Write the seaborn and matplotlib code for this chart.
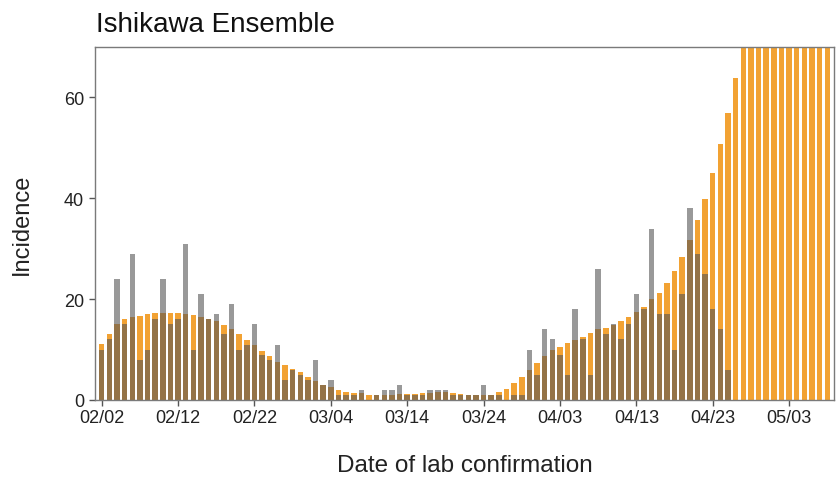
import matplotlib
matplotlib.use("Agg")
import matplotlib.pyplot as plt
import seaborn as sns
import pandas as pd
import numpy as np

start_date = "2021-02-02"

ensemble = [11.1, 13.0, 15.0, 16.0, 16.5, 16.7, 17.0, 17.2, 17.3, 17.3,
            17.2, 17.0, 16.8, 16.5, 16.1, 15.6, 14.8, 14.1, 13.0, 11.8,
            11.0, 9.8, 8.8, 7.5, 7.0, 6.2, 5.6, 4.6, 3.8, 3.0,
            2.5, 1.9, 1.5, 1.4, 1.3, 1.0, 1.0, 1.0, 1.0, 1.1,
            1.2, 1.2, 1.3, 1.4, 1.5, 1.5, 1.4, 1.2, 1.0, 1.0,
            1.0, 1.0, 1.5, 2.2, 3.4, 4.6, 6.0, 7.4, 8.8, 10.0,
            10.6, 11.3, 11.9, 12.5, 13.2, 14.0, 14.3, 14.9, 15.6, 16.4,
            17.4, 18.4, 20.0, 21.2, 23.2, 25.5, 28.4, 31.8, 35.6, 39.9,
            45.1, 50.7, 56.9, 63.8, 72.0, 80.0, 88.0, 97.0, 107.0, 118.0,
            130.0, 143.0, 157.0, 172.0, 189.0, 208.0]

observed = [10, 12, 24, 15, 29, 8, 10, 16, 24, 15,
            16, 31, 10, 21, 16, 17, 13, 19, 10, 11,
            15, 9, 8, 11, 4, 6, 5, 4, 8, 3,
            4, 1, 1, 1, 2, 0, 1, 2, 2, 3,
            1, 1, 1, 2, 2, 2, 1, 1, 1, 1,
            3, 1, 1, 0, 1, 1, 10, 5, 14, 12,
            9, 5, 18, 12, 5, 26, 13, 15, 12, 15,
            21, 18, 34, 17, 17, 10, 21, 38, 29, 25,
            18, 14, 6]

dates = pd.date_range(start_date, periods=len(ensemble), freq="D")
date_labels = [d.strftime("%m/%d") for d in dates]

df_ens = pd.DataFrame({"date": date_labels, "value": ensemble})
df_obs = pd.DataFrame({"date": date_labels[:len(observed)], "value": observed})

sns.set_style("white")
plt.rcParams["font.family"] = ["Liberation Sans", "DejaVu Sans"]

fig = plt.figure(figsize=(8.39, 4.85), dpi=100)
ax = fig.add_axes([95 / 839, 1 - 401 / 485, (834 - 95) / 839, (401 - 48) / 485])

sns.barplot(data=df_ens, x="date", y="value", order=date_labels, color="#F2A233",
            saturation=1, errorbar=None, width=0.72, linewidth=0, ax=ax)
sns.barplot(data=df_obs, x="date", y="value", order=date_labels, color="#555555",
            alpha=0.6, saturation=1, errorbar=None, width=0.72, linewidth=0, ax=ax)

ax.set_ylim(0, 70)
ax.set_xlim(-0.88, len(ensemble) - 1 + 0.88)
ax.set_yticks([0, 20, 40, 60])
tick_pos = list(range(0, len(ensemble), 10))
ax.set_xticks(tick_pos)
ax.set_xticklabels([date_labels[i] for i in tick_pos])

for s in ax.spines.values():
    s.set_visible(True)
    s.set_color("#7a7a7a")
    s.set_linewidth(1.0)

ax.tick_params(axis="both", direction="out", length=4, width=1, color="#555555",
               labelsize=13, labelcolor="#222222", bottom=True, left=True)
ax.tick_params(axis="x", pad=2.5)
ax.tick_params(axis="y", pad=4)
ax.set_xlabel("Date of lab confirmation", fontsize=17.5, color="#222222", labelpad=20)
ax.set_ylabel("Incidence", fontsize=17, color="#222222", labelpad=22)
fig.text(96 / 839, 1 - 25 / 485, "Ishikawa Ensemble", fontsize=20, color="#111111",
         ha="left", va="center")

fig.savefig("out.png", dpi=100)
